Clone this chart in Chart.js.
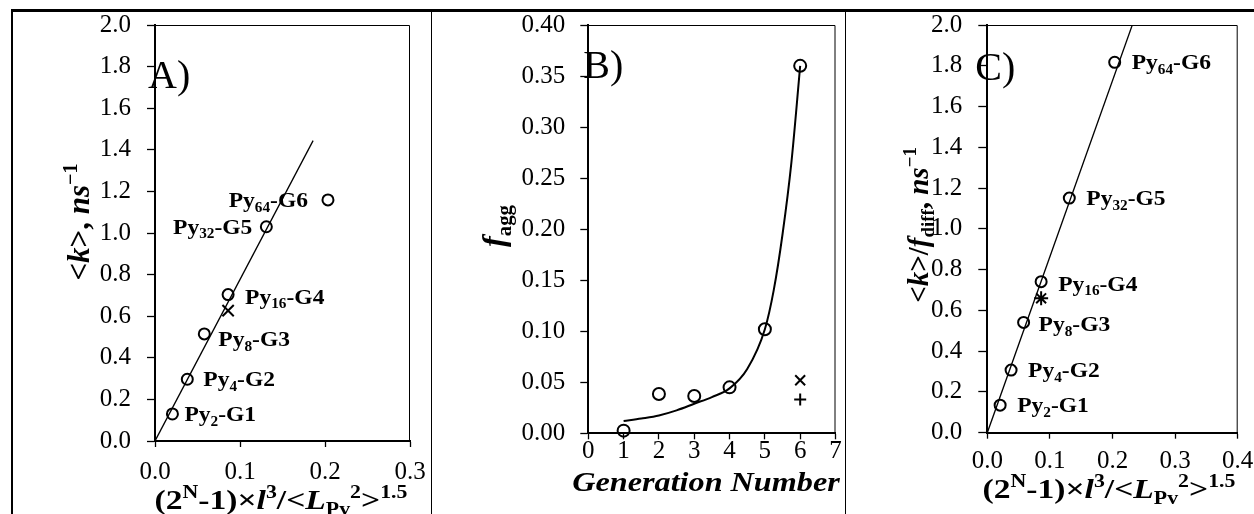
<!DOCTYPE html>
<html>
<head>
<meta charset="utf-8">
<script src="https://cdn.jsdelivr.net/npm/chart.js@4.4.1/dist/chart.umd.min.js"></script>
<style>
body { margin: 0; background: #fff; width: 1254px; height: 514px; overflow: hidden; position: relative; }
#frame { position: absolute; left: 11px; top: 9px; width: 1243px; height: 505px; border-top: 3px solid #000; border-left: 2px solid #000; box-sizing: border-box; }
.sep { position: absolute; top: 10px; bottom: 0; width: 1px; background: #000; }
canvas { position: absolute; }
</style>
</head>
<body>
<div id="frame"></div>
<div class="sep" style="left:431px"></div>
<div class="sep" style="left:845px"></div>
<canvas id="chartA" width="420" height="504" style="left:12px;top:10px"></canvas>
<canvas id="chartB" width="414" height="504" style="left:432px;top:10px"></canvas>
<canvas id="chartC" width="408" height="504" style="left:846px;top:10px"></canvas>
<script>
// ---- data ----
const pyNumbers = ['2', '4', '8', '16', '32', '64'];
const genNames = ['G1', 'G2', 'G3', 'G4', 'G5', 'G6'];
const sizeParam = [0.0205, 0.038, 0.058, 0.086, 0.131, 0.2035];   // (2^N-1)l^3/<L^2>^1.5

// A) <k>
const kMean = [0.13, 0.297, 0.515, 0.704, 1.03, 1.159];
const kCrossX = [0.086];
const kCrossY = [0.627];
const fitAX = [0, 0.186];
const fitAY = [0, 1.444];

// B) f_agg vs generation
const generations = [1, 2, 3, 4, 5, 6];
const fAgg = [0.0026, 0.0385, 0.0365, 0.045, 0.102, 0.360];
const fAggCrossX = [6];
const fAggCrossY = [0.052];
const fAggPlusX = [6];
const fAggPlusY = [0.033];
const fitBX = [1, 1.5, 2, 2.5, 3, 3.5, 4, 4.5, 5, 5.25, 5.5, 5.75, 6];
const fitBY = [0.012, 0.0145, 0.0175, 0.0225, 0.029, 0.0355, 0.044, 0.063, 0.102, 0.14, 0.195, 0.265, 0.36];

// C) <k>/f_diff
const kDiff = [0.135, 0.307, 0.541, 0.741, 1.151, 1.817];
const kStarX = [0.086];
const kStarY = [0.659];
const fitCX = [0, 0.2316];
const fitCY = [0, 2.0];

// tick labels
const yTicksK = [0.0, 0.2, 0.4, 0.6, 0.8, 1.0, 1.2, 1.4, 1.6, 1.8, 2.0];
const xTicksA = [0.0, 0.1, 0.2, 0.3];
const yTicksB = [0.00, 0.05, 0.10, 0.15, 0.20, 0.25, 0.30, 0.35, 0.40];
const xTicksB = [0, 1, 2, 3, 4, 5, 6, 7];
const xTicksC = [0.0, 0.1, 0.2, 0.3, 0.4];

const SERIF = '"Liberation Serif", "Times New Roman", serif';

function pts(xs, ys) { return xs.map((x, i) => ({ x: x, y: ys[i] })); }

function drawRich(ctx, segs, x, y, size, align, sx, rot) {
    ctx.save();
    ctx.translate(x, y);
    if (rot) ctx.rotate(rot);
    ctx.scale(sx, 1);
    const parts = segs.map(([t, kind, style]) => {
        const s = kind ? size * 0.65 : size;
        const font = (style || 'bold') + ' ' + s + 'px ' + SERIF;
        ctx.font = font;
        const dy = kind === 'sub' ? size * 0.22 : kind === 'sup' ? -size * 0.4 : 0;
        return { t: t, font: font, w: ctx.measureText(t).width, dy: dy };
    });
    const total = parts.reduce((a, p) => a + p.w, 0);
    let cx = align === 'left' ? 0 : align === 'right' ? -total : -total / 2;
    ctx.textAlign = 'left';
    ctx.textBaseline = 'alphabetic';
    ctx.fillStyle = '#000';
    parts.forEach(p => { ctx.font = p.font; ctx.fillText(p.t, cx, p.dy); cx += p.w; });
    ctx.restore();
}

function labelSegs(i) {
    return [['Py', '', 'bold'], [pyNumbers[i], 'sub', 'bold'], ['-' + genNames[i], '', 'bold']];
}

const xTitleSegs = [['(2', '', 'bold'], ['N', 'sup', 'bold'], ['-1)\u00d7', '', 'bold'], ['l', '', 'italic bold'], ['3', 'sup', 'bold'],
    ['/<', '', 'bold'], ['L', '', 'italic bold'], ['Pv', 'sub', 'bold'], ['2', 'sup', 'bold'], ['>', '', 'bold'], ['1.5', 'sup', 'bold']];

const decoPlugin = {
    id: 'deco',
    afterDraw(chart, args, opts) {
        const ctx = chart.ctx;
        const area = chart.chartArea;
        ctx.save();
        ctx.strokeStyle = '#000';
        ctx.lineWidth = 1;
        ctx.beginPath();
        ctx.moveTo(area.left, area.top + 0.5);
        ctx.lineTo(area.right - 0.5, area.top + 0.5);
        ctx.lineTo(area.right - 0.5, area.bottom);
        ctx.stroke();
        ctx.restore();

        if (opts.labels) {
            const meta = chart.getDatasetMeta(opts.labels.dataset);
            meta.data.forEach((pt, i) => {
                const o = opts.labels.offsets[i];
                drawRich(chart.ctx, labelSegs(i), pt.x + o[0], pt.y + o[1] + 7, 21, o[0] < 0 ? 'right' : 'left', 1.12, 0);
            });
        }
        const L = opts.letter;
        ctx.save();
        ctx.font = '40px ' + SERIF;
        ctx.fillStyle = '#000';
        ctx.textBaseline = 'alphabetic';
        ctx.fillText(L.text, area.left + L.dx, area.top + L.dy);
        ctx.restore();

        const xt = opts.xTitle;
        drawRich(ctx, xt.segs, xt.x, xt.y, xt.size, 'center', xt.sx, 0);
        const yt = opts.yTitle;
        drawRich(ctx, yt.segs, yt.x, yt.y, yt.size, 'center', 1, -Math.PI / 2);
    }
};

function xAxis(ticksArr, dec, tl, pad, height) {
    return {
        type: 'linear', position: 'bottom',
        min: ticksArr[0], max: ticksArr[ticksArr.length - 1],
        afterBuildTicks: s => { s.ticks = ticksArr.map(v => ({ value: v })); },
        afterFit: s => { s.height = height; s.paddingLeft = 0; s.paddingRight = 0; },
        ticks: { color: '#000', font: { family: SERIF, size: 25 }, padding: pad, maxRotation: 0, autoSkip: false,
                 callback: v => Number(v).toFixed(dec) },
        grid: { drawOnChartArea: false, drawTicks: true, tickLength: tl, tickColor: '#000', tickWidth: 1.3 },
        border: { display: true, color: '#000', width: 2 }
    };
}

function yAxis(ticksArr, dec, tl, pad, width) {
    return {
        type: 'linear', position: 'left',
        min: ticksArr[0], max: ticksArr[ticksArr.length - 1],
        afterBuildTicks: s => { s.ticks = ticksArr.map(v => ({ value: v })); },
        afterFit: s => { s.width = width; s.paddingTop = 0; s.paddingBottom = 0; },
        ticks: { color: '#000', font: { family: SERIF, size: 25 }, padding: pad, autoSkip: false,
                 callback: v => Number(v).toFixed(dec) },
        grid: { drawOnChartArea: false, drawTicks: true, tickLength: tl, tickColor: '#000', tickWidth: 1.3 },
        border: { display: true, color: '#000', width: 2 }
    };
}

function lineSet(xs, ys, extra) {
    return Object.assign({ type: 'line', data: pts(xs, ys), borderColor: '#000', borderWidth: 1.3,
        pointRadius: 0, fill: false, tension: 0 }, extra || {});
}

function markerSet(xs, ys, style, r) {
    return { type: 'scatter', data: pts(xs, ys), pointStyle: style, pointRadius: r, pointBorderWidth: 2,
        borderColor: '#000', pointBorderColor: '#000', backgroundColor: 'rgba(0,0,0,0)', pointBackgroundColor: 'rgba(0,0,0,0)', clip: false };
}

function baseOptions(padRight, scales, deco) {
    return {
        responsive: false, animation: false, devicePixelRatio: 1,
        layout: { padding: { top: 15, right: padRight, left: 0, bottom: 0 } },
        plugins: { legend: { display: false }, tooltip: { enabled: false }, deco: deco },
        scales: scales
    };
}

// panel A
new Chart(document.getElementById('chartA'), {
    type: 'scatter',
    data: { datasets: [
        lineSet(fitAX, fitAY),
        markerSet(sizeParam, kMean, 'circle', 5.5),
        markerSet(kCrossX, kCrossY, 'crossRot', 8)
    ] },
    options: baseOptions(22, { x: xAxis(xTicksA, 1, 6, 10, 73), y: yAxis(yTicksK, 1, 8, 16, 143) }, {
        labels: { dataset: 1, offsets: [[12, 0], [16, 0], [14, 5], [17, 2], [-14, 0], [-20, 0]] },
        letter: { text: 'A)', dx: -7, dy: 63 },
        xTitle: { segs: xTitleSegs, x: 269, y: 499, size: 28, sx: 1.2 },
        yTitle: { segs: [['<', '', 'bold'], ['k', '', 'italic bold'], ['>, ', '', 'bold'], ['ns', '', 'italic bold'], ['\u22121', 'sup', 'bold']],
                  x: 77, y: 212, size: 31 }
    }),
    plugins: [decoPlugin]
});

// panel B
new Chart(document.getElementById('chartB'), {
    type: 'scatter',
    data: { datasets: [
        lineSet(fitBX, fitBY, { cubicInterpolationMode: 'monotone', borderWidth: 2 }),
        markerSet(generations, fAgg, 'circle', 6),
        markerSet(fAggCrossX, fAggCrossY, 'crossRot', 7),
        markerSet(fAggPlusX, fAggPlusY, 'cross', 6)
    ] },
    options: baseOptions(10.5, { x: xAxis(xTicksB, 0, 6, -3, 80.7), y: yAxis(yTicksB, 2, 8, 15, 156.3) }, {
        letter: { text: 'B)', dx: -5, dy: 53 },
        xTitle: { segs: [['Generation Number', '', 'italic bold']], x: 274, y: 481, size: 28, sx: 1.15 },
        yTitle: { segs: [['f', '', 'italic bold'], ['agg', 'sub', 'bold']], x: 72, y: 216, size: 32 }
    }),
    plugins: [decoPlugin]
});

// panel C
new Chart(document.getElementById('chartC'), {
    type: 'scatter',
    data: { datasets: [
        lineSet(fitCX, fitCY),
        markerSet(sizeParam, kDiff, 'circle', 5.5),
        markerSet(kStarX, kStarY, 'star', 7)
    ] },
    options: baseOptions(16.3, { x: xAxis(xTicksC, 1, 6, 8, 81.3), y: yAxis(yTicksK, 1, 9, 16, 141.3) }, {
        labels: { dataset: 1, offsets: [[17, 0], [17, 0], [15, 2], [17, 2], [17, 0], [17, 0]] },
        letter: { text: 'C)', dx: -12, dy: 55 },
        xTitle: { segs: xTitleSegs, x: 263, y: 488, size: 28, sx: 1.2 },
        yTitle: { segs: [['<', '', 'bold'], ['k', '', 'italic bold'], ['>/', '', 'bold'], ['f', '', 'italic bold'], ['diff', 'sub', 'bold'],
                         [', ', '', 'bold'], ['ns', '', 'italic bold'], ['\u22121', 'sup', 'bold']],
                  x: 82, y: 215, size: 29 }
    }),
    plugins: [decoPlugin]
});
</script>
</body>
</html>
